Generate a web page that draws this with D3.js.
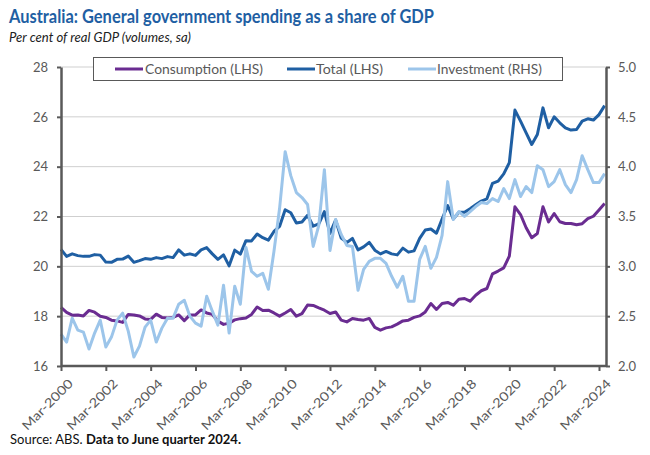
<!DOCTYPE html>
<html><head><meta charset="utf-8">
<script src="https://cdn.jsdelivr.net/npm/d3@7"></script>
<style>
body{margin:0;background:#fff;}
svg{display:block;}
text{font-family:Lato,"Noto Sans",sans-serif;}
</style></head>
<body><svg id="c" width="650" height="455"></svg>
<script>
// ---- data ----
const startYear = 2000;
const quarterNames = ["Mar","Jun","Sep","Dec"];
const nQuarters = 98; // Mar-2000 .. Jun-2024
const tickLabels = ["Mar-2000","Mar-2002","Mar-2004","Mar-2006","Mar-2008","Mar-2010","Mar-2012","Mar-2014","Mar-2016","Mar-2018","Mar-2020","Mar-2022","Mar-2024"];
const leftTicks = [16,18,20,22,24,26,28];
const rightTicks = [2.0,2.5,3.0,3.5,4.0,4.5,5.0];

const consumption = [18.35,18.15,18.04,18.05,18.01,18.23,18.16,18.0,17.95,17.84,17.81,17.75,18.07,18.05,18.01,17.89,17.87,18.08,17.95,17.93,
17.95,18.05,17.82,18.05,18.05,18.25,18.13,18.07,17.8,17.67,17.72,17.85,17.9,17.93,18.07,18.37,18.23,18.24,18.13,18.0,
18.13,18.27,18.0,18.1,18.45,18.43,18.33,18.24,18.11,18.17,17.84,17.77,17.91,17.87,17.84,17.91,17.55,17.44,17.53,17.57,
17.68,17.81,17.84,17.95,18.01,18.17,18.51,18.27,18.51,18.55,18.44,18.68,18.71,18.6,18.84,19.02,19.11,19.7,19.81,19.94,
20.41,22.39,22.08,21.55,21.15,21.32,22.39,21.78,22.12,21.79,21.72,21.72,21.67,21.71,21.91,22.01,22.26,22.52];

const total = [20.68,20.4,20.5,20.43,20.4,20.4,20.47,20.45,20.17,20.16,20.28,20.29,20.41,20.16,20.23,20.31,20.28,20.35,20.31,20.39,
20.35,20.66,20.45,20.5,20.44,20.66,20.75,20.5,20.28,20.46,20.02,20.65,20.49,21.03,21.02,21.3,21.15,21.05,21.4,21.6,
22.27,22.15,21.74,21.78,22.05,21.61,21.7,22.2,21.32,21.86,21.13,20.96,21.12,20.66,20.78,20.96,20.65,20.5,20.6,20.5,
20.46,20.73,20.57,20.62,21.12,21.46,21.5,21.33,21.9,22.44,21.9,22.17,22.17,22.31,22.47,22.62,22.71,23.33,23.42,23.71,
24.16,26.27,25.83,25.36,24.89,25.29,26.36,25.56,26.0,25.76,25.56,25.47,25.49,25.83,25.92,25.87,26.09,26.45];

const investment = [2.32,2.24,2.48,2.36,2.34,2.17,2.33,2.46,2.19,2.29,2.46,2.53,2.35,2.09,2.2,2.39,2.46,2.24,2.38,2.48,
2.48,2.62,2.66,2.50,2.43,2.40,2.70,2.55,2.41,2.81,2.33,2.80,2.62,3.19,2.95,2.90,2.93,2.77,3.15,3.58,
4.15,3.91,3.74,3.69,3.62,3.20,3.41,3.97,3.16,3.47,3.32,3.21,3.20,2.76,2.97,3.05,3.08,3.08,3.03,2.90,
2.79,2.90,2.65,2.65,3.07,3.20,2.98,3.09,3.31,3.85,3.47,3.55,3.50,3.55,3.60,3.64,3.63,3.68,3.65,3.78,
3.68,3.87,3.70,3.80,3.74,4.01,3.97,3.80,3.85,3.97,3.82,3.74,3.87,4.11,3.97,3.84,3.84,3.93];

const categories = [];
for (let i = 0; i < nQuarters; i++) categories.push(quarterNames[i % 4] + "-" + (startYear + Math.floor(i / 4)));

const seriesNames = ["Consumption (LHS)","Total (LHS)","Investment (RHS)"];
const colors = ["#6a2c91","#1f5fa3","#9cc5ea"];

// ---- layout ----
const svg = d3.select("#c");
const L = 61, R = 606, T = 67, B = 366;
const lastX = 604.6;
const axisGrey = "#595959";

const x = d3.scalePoint().domain(categories).range([L, lastX]).padding(0);
const yL = d3.scaleLinear().domain([16, 28]).range([B, T]);
const yR = d3.scaleLinear().domain([2, 5]).range([B, T]);

// title
svg.append("text").attr("x", 9).attr("y", 23)
  .attr("font-size", 18).attr("font-weight", 700).attr("fill", "#1f5fa3")
  .attr("textLength", 425).attr("lengthAdjust", "spacingAndGlyphs")
  .text("Australia: General government spending as a share of GDP");
svg.append("text").attr("x", 9).attr("y", 42)
  .attr("font-size", 13).attr("font-style", "italic").attr("fill", "#222")
  .attr("textLength", 182).attr("lengthAdjust", "spacingAndGlyphs")
  .text("Per cent of real GDP (volumes, sa)");

// grid
svg.append("g").selectAll("line").data(leftTicks.filter(d => d > 16)).join("line")
  .attr("x1", L).attr("x2", R).attr("y1", d => yL(d)).attr("y2", d => yL(d))
  .attr("stroke", "#cfcfcf").attr("stroke-width", 1);

// lines
const lineL = d3.line().x((d, i) => x(categories[i])).y(d => yL(d));
const lineR = d3.line().x((d, i) => x(categories[i])).y(d => yR(d));
svg.append("path").datum(consumption).attr("d", lineL).attr("fill", "none")
  .attr("stroke", colors[0]).attr("stroke-width", 3).attr("stroke-linejoin", "round");
svg.append("path").datum(total).attr("d", lineL).attr("fill", "none")
  .attr("stroke", colors[1]).attr("stroke-width", 3).attr("stroke-linejoin", "round");
svg.append("path").datum(investment).attr("d", lineR).attr("fill", "none")
  .attr("stroke", colors[2]).attr("stroke-width", 3).attr("stroke-linejoin", "round");

// axes
function styleAxis(g) {
  g.select(".domain").attr("stroke", axisGrey).attr("stroke-width", 2.5);
  g.selectAll(".tick line").attr("stroke", axisGrey).attr("stroke-width", 2);
  g.selectAll(".tick text").attr("fill", axisGrey).attr("font-size", 13);
}
const gL = svg.append("g").attr("transform", `translate(${L},0)`)
  .call(d3.axisLeft(yL).tickValues(leftTicks).tickFormat(d3.format("d")).tickSizeInner(4).tickSizeOuter(0).tickPadding(9));
styleAxis(gL);
const gR = svg.append("g").attr("transform", `translate(${R},0)`)
  .call(d3.axisRight(yR).tickValues(rightTicks).tickFormat(d3.format(".1f")).tickSizeInner(4).tickSizeOuter(0).tickPadding(8));
styleAxis(gR);
const gX = svg.append("g").attr("transform", `translate(0,${B})`)
  .call(d3.axisBottom(x).tickValues(tickLabels).tickSizeInner(5).tickSizeOuter(0).tickPadding(4));
gX.select(".domain").attr("d", `M${L},0H${R}`);
styleAxis(gX);
gX.selectAll(".tick text").attr("font-size", 12.5).attr("text-anchor", "end")
  .attr("dy", 0).attr("textLength", 66).attr("lengthAdjust", "spacingAndGlyphs")
  .attr("transform", "translate(6,12) rotate(-45)");

// legend
const lg = svg.append("g");
lg.append("rect").attr("x", 93.5).attr("y", 57.5).attr("width", 469).attr("height", 23)
  .attr("fill", "#fff").attr("stroke", axisGrey).attr("stroke-width", 1);
const legendItems = [
  {x1: 115, x2: 143, tx: 145, w: 118},
  {x1: 287, x2: 315, tx: 316, w: 67},
  {x1: 408, x2: 436, tx: 437, w: 105}
];
legendItems.forEach((it, k) => {
  lg.append("line").attr("x1", it.x1).attr("x2", it.x2).attr("y1", 69).attr("y2", 69)
    .attr("stroke", colors[k]).attr("stroke-width", 3);
  lg.append("text").attr("x", it.tx).attr("y", 74).attr("font-size", 13).attr("fill", axisGrey)
    .attr("textLength", it.w).attr("lengthAdjust", "spacingAndGlyphs").text(seriesNames[k]);
});

// source
const src = svg.append("text").attr("x", 10).attr("y", 444).attr("font-size", 12.5).attr("fill", "#111")
  .attr("textLength", 231).attr("lengthAdjust", "spacingAndGlyphs");
src.append("tspan").text("Source: ABS. ");
src.append("tspan").attr("font-weight", 700).text("Data to June quarter 2024.");
</script></body></html>
